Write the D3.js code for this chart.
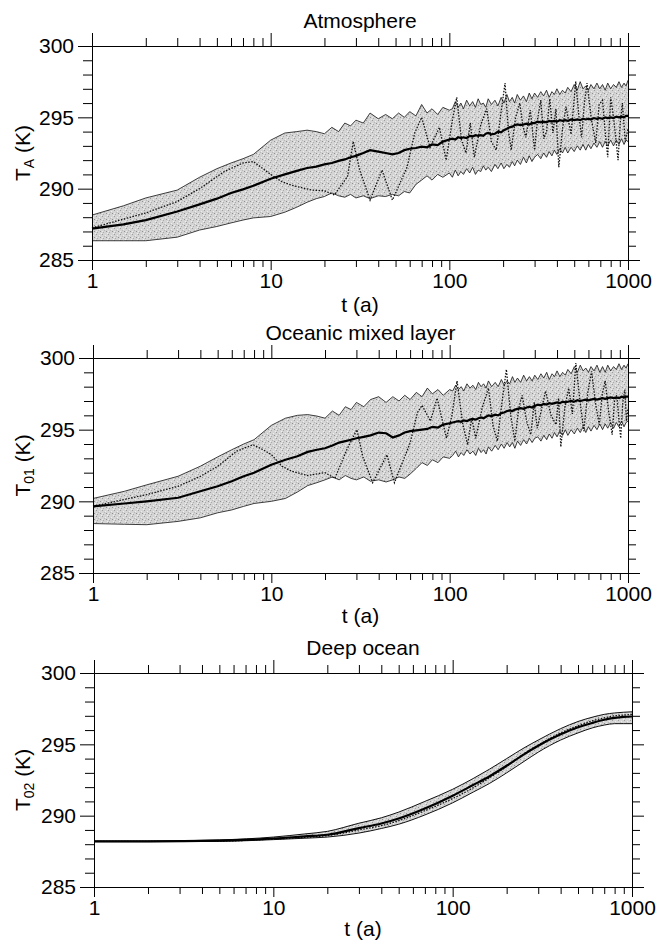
<!DOCTYPE html>
<html>
<head>
<meta charset="utf-8">
<script src="https://cdn.jsdelivr.net/npm/d3@7"></script>
<style>
  body { margin: 0; background: #fff; }
  svg { font-family: "Liberation Sans", Arial, Helvetica, sans-serif; }
</style>
</head>
<body>
<svg id="chart" width="656" height="944"></svg>
<script>
// ---- data (temperatures in K, time in years) ----
const tBand = [1, 1.5, 2, 3, 4, 5, 6, 7, 8, 10, 12, 14, 16, 18, 20,
  22, 24, 26, 28, 30, 33, 36, 40, 44, 48, 52, 56, 60, 65, 70, 75, 80, 86, 92, 100,
  104, 108, 112, 116, 120, 125, 130, 135, 140, 145, 150, 155, 160, 165, 172, 180, 187, 195, 202, 210,
  217, 225, 232, 240, 250, 260, 270, 280, 290, 300,
  312, 325, 337, 350, 362, 375, 387, 400, 415, 430, 445, 460, 480, 500, 520, 540, 560, 580, 600, 620,
  645, 670, 695, 720, 745, 770, 800, 830, 860, 890, 920, 950, 975, 1000];

// Atmosphere
const atmMean = [287.2, 287.5, 287.8, 288.4, 288.9, 289.3, 289.7, 289.95, 290.2, 290.7, 291.0, 291.25, 291.45, 291.55, 291.7,
  291.8, 291.95, 292.05, 292.2, 292.3, 292.5, 292.7, 292.6, 292.5, 292.4, 292.5, 292.7, 292.8, 292.85, 292.95, 292.9, 293.1, 293.05, 293.3, 293.45,
  293.5, 293.45, 293.6, 293.55, 293.6, 293.55, 293.7, 293.65, 293.75, 293.7, 293.75, 293.7, 293.85, 293.9, 293.8, 293.85, 294.0, 293.95, 294.1, 294.2,
  294.3, 294.35, 294.45, 294.5, 294.45, 294.5, 294.55, 294.5, 294.6, 294.6,
  294.7, 294.65, 294.7, 294.65, 294.75, 294.7, 294.75, 294.7, 294.8, 294.75, 294.8, 294.75, 294.85, 294.8, 294.85, 294.8, 294.9, 294.85, 294.9, 294.85,
  294.95, 294.9, 294.95, 294.9, 295.0, 294.95, 295.0, 294.95, 295.05, 295.0, 295.05, 295.0, 295.1, 295.1];
const atmUpper = [288.15, 288.8, 289.35, 289.9, 290.8, 291.4, 291.8, 292.1, 292.4, 293.4, 293.9, 294.0, 294.1, 294.0, 293.85,
  294.3, 294.0, 294.6, 294.4, 294.8, 294.6, 295.3, 294.9, 295.2, 294.9, 295.3, 295.0, 295.4, 295.1, 295.9, 295.3, 295.6, 295.2, 295.7, 295.5,
  295.6, 296.1, 295.7, 296.0, 295.6, 296.2, 295.8, 296.1, 295.7, 296.3, 295.9, 296.0, 295.7, 296.3, 295.9, 296.2, 295.8, 296.4, 296.0, 296.6,
  296.1, 296.4, 296.0, 296.6, 296.2, 296.5, 296.1, 296.7, 296.3, 296.7,
  296.4, 296.8, 296.5, 296.9, 296.4, 296.8, 296.6, 297.0, 296.6, 296.9, 296.7, 297.1, 296.8, 297.3, 296.9, 297.5, 297.0, 297.2, 296.9, 297.3,
  297.0, 297.4, 297.0, 297.3, 296.9, 297.4, 297.0, 297.3, 297.1, 297.5, 297.1, 297.4, 297.2, 297.6];
const atmLower = [286.35, 286.35, 286.35, 286.6, 287.1, 287.35, 287.6, 287.8, 287.95, 288.05, 288.35, 288.7, 289.05, 289.3, 289.45,
  289.7, 289.5, 289.4, 289.6, 289.35, 289.5, 289.3, 289.5, 289.45, 289.6, 289.5, 289.8, 289.7, 290.3, 290.6, 290.9, 290.6, 291.0, 290.8, 291.1,
  290.8, 291.3, 290.9, 291.2, 291.0, 291.4, 291.1, 291.5, 291.0, 291.3, 291.2, 291.6, 291.3, 291.5, 291.2, 291.7, 291.4, 291.8, 291.4, 291.7,
  291.5, 291.9, 291.6, 292.0, 291.7, 292.2, 291.8, 292.3, 291.9, 292.2,
  292.4, 292.1, 292.5, 292.2, 292.6, 292.3, 292.7, 292.4, 292.8, 292.5, 292.9, 292.5, 292.9, 292.6, 293.0, 292.7, 293.1, 292.7, 293.1, 292.8,
  293.2, 292.9, 293.3, 292.9, 293.3, 293.0, 293.4, 293.0, 293.4, 293.1, 293.5, 293.1, 293.4, 293.3];
const atmDotT = [1, 2, 3, 4, 5.5, 7, 8, 10, 11.5, 13, 17, 20, 22.7, 26.9, 29, 31.5, 36, 42, 48, 58,
  64, 70, 78, 88, 96, 104, 110, 117, 124, 131, 138, 150, 162, 172, 183, 194, 205, 214, 222, 235,
  248, 258, 268, 284, 300, 312, 325, 338, 350, 365, 380, 395, 410, 430, 450, 480, 510, 530, 550, 570,
  590, 625, 660, 690, 720, 745, 770, 800, 830, 855, 880, 905, 930, 965, 1000];
const atmDot = [287.25, 288.3, 289.1, 290.0, 291.2, 291.8, 291.9, 291.0, 290.5, 290.25, 289.9, 289.85, 289.56, 290.84, 293.3, 291.3, 289.2, 291.3, 289.2, 291.5,
  293.9, 295.0, 292.9, 294.3, 292.0, 294.8, 296.4, 293.4, 292.5, 294.6, 292.2, 294.5, 295.6, 293.3, 292.7, 295.2, 297.4, 294.1, 292.7, 295.0,
  296.0, 294.4, 293.6, 295.5, 292.7, 294.9, 296.2, 293.5, 294.0, 296.3, 293.9, 295.6, 291.5, 294.2, 295.75, 293.8, 297.5, 295.2, 293.6, 296.0,
  297.4, 294.8, 293.2, 295.9, 296.2, 294.0, 292.2, 296.4, 295.0, 293.5, 292.0, 294.6, 296.0, 293.3, 294.2];

// Oceanic mixed layer
const omlMean = [289.65, 289.85, 290.0, 290.25, 290.7, 291.05, 291.4, 291.75, 292.0, 292.55, 292.9, 293.15, 293.45, 293.6, 293.7,
  293.9, 294.1, 294.2, 294.3, 294.4, 294.5, 294.6, 294.8, 294.75, 294.45, 294.6, 294.8, 294.9, 294.95, 295.0, 295.05, 295.2, 295.15, 295.35, 295.45,
  295.5, 295.55, 295.6, 295.55, 295.65, 295.6, 295.7, 295.75, 295.7, 295.8, 295.85, 295.8, 295.9, 296.0, 295.95, 296.05, 296.0, 296.15, 296.2, 296.3,
  296.35, 296.3, 296.4, 296.45, 296.5, 296.45, 296.55, 296.6, 296.55, 296.65,
  296.75, 296.7, 296.8, 296.75, 296.85, 296.8, 296.85, 296.9, 296.85, 296.95, 296.9, 296.95, 297.0, 296.95, 297.05, 297.0, 297.05, 297.1, 297.05, 297.1,
  297.15, 297.1, 297.15, 297.2, 297.15, 297.2, 297.25, 297.2, 297.25, 297.2, 297.3, 297.25, 297.3, 297.3];
const omlUpper = [290.2, 290.7, 291.15, 291.75, 292.45, 293.1, 293.6, 294.0, 294.3, 295.3, 295.8, 296.0, 296.05, 295.95, 295.8,
  296.3, 296.0, 296.6, 296.4, 296.9, 296.6, 297.1, 297.3, 296.9, 297.3, 297.0, 297.4, 297.1, 297.6, 297.3, 297.9, 297.5, 297.8, 297.4, 297.8,
  297.7, 298.1, 297.8, 298.0, 297.7, 298.2, 297.9, 298.1, 297.8, 298.3, 298.0, 298.2, 297.9, 298.4, 298.0, 298.3, 298.0, 298.5, 298.1, 298.4,
  298.2, 298.7, 298.3, 298.6, 298.3, 298.8, 298.4, 298.7, 298.4, 298.8,
  298.5, 298.9, 298.6, 299.0, 298.5, 298.9, 298.7, 299.1, 298.7, 299.0, 298.8, 299.2, 298.9, 299.4, 299.0, 299.5, 299.1, 299.3, 299.0, 299.4,
  299.1, 299.5, 299.0, 299.4, 299.0, 299.5, 299.1, 299.4, 299.2, 299.6, 299.2, 299.5, 299.3, 299.6];
const omlLower = [288.45, 288.4, 288.37, 288.6, 288.85, 289.2, 289.4, 289.65, 289.85, 290.0, 290.2, 290.65, 291.1, 291.3, 291.5,
  291.7, 291.5, 291.8, 291.6, 291.5, 291.7, 291.4, 291.5, 291.35, 291.5, 291.7, 291.6, 291.9, 292.3, 292.7, 292.5, 292.9, 292.7, 293.1, 293.0,
  293.2, 293.5, 293.1, 293.4, 293.2, 293.6, 293.3, 293.5, 293.2, 293.7, 293.4, 293.6, 293.3, 293.8, 293.5, 293.9, 293.6, 294.0, 293.7, 294.1,
  293.8, 294.1, 293.7, 294.2, 293.9, 294.3, 294.0, 294.4, 294.1, 294.4,
  294.5, 294.2, 294.6, 294.3, 294.7, 294.4, 294.8, 294.5, 294.9, 294.6, 295.0, 294.6, 295.0, 294.7, 295.1, 294.8, 295.2, 294.8, 295.2, 294.9,
  295.3, 295.0, 295.4, 295.0, 295.4, 295.1, 295.5, 295.1, 295.5, 295.2, 295.6, 295.2, 295.5, 295.6];
const omlDotT = [1, 2, 3, 4, 5, 6.4, 7.9, 9, 10, 11.5, 13, 16, 20, 22.7, 26.5, 30.2, 32.6, 37, 44.5, 49,
  60, 66, 70, 78, 85, 96, 103, 110, 118, 126, 133, 140, 152, 165, 175, 185, 196, 208, 220, 232,
  244, 255, 270, 285, 298, 310, 327, 345, 370, 395, 408, 420, 443, 465, 488, 510, 538, 565, 595, 625,
  658, 690, 718, 745, 780, 815, 840, 865, 888, 910, 935, 960, 980, 1000];
const omlDot = [289.65, 290.47, 291.05, 291.74, 292.44, 293.5, 293.95, 293.6, 293.26, 292.44, 292.1, 291.8, 292.0, 291.6, 293.6, 295.0, 293.1, 291.3, 293.25, 291.3,
  294.07, 296.2, 296.7, 295.6, 297.2, 294.4, 296.0, 298.4, 295.5, 293.95, 295.8, 294.4, 296.5, 297.9, 295.3, 294.2, 296.8, 299.2, 296.0, 294.2,
  296.5, 297.4, 295.6, 294.65, 296.9, 295.1, 296.4, 297.7, 296.0, 295.35, 297.2, 293.8, 296.6, 297.9, 296.1, 299.65, 297.0, 294.9, 297.6, 299.07,
  296.8, 295.35, 297.5, 298.4, 296.2, 294.65, 297.0, 297.4, 295.8, 294.4, 296.9, 297.8, 295.6, 296.5];

// Deep ocean
const deepT = [1, 2, 5, 10, 15, 20, 30, 40, 50, 70, 100, 130, 160, 200, 250, 300, 400, 500, 600, 700, 800, 900, 1000];
const deepMean = [288.2, 288.2, 288.25, 288.4, 288.55, 288.66, 289.13, 289.45, 289.8, 290.5, 291.4, 292.15, 292.75, 293.5, 294.3, 294.9, 295.7, 296.2, 296.5, 296.72, 296.85, 296.92, 296.95];
const deepUpper = [288.22, 288.22, 288.3, 288.5, 288.72, 288.9, 289.47, 289.85, 290.25, 291.0, 291.85, 292.6, 293.25, 294.0, 294.75, 295.3, 296.1, 296.6, 296.9, 297.1, 297.2, 297.25, 297.28];
const deepLower = [288.18, 288.18, 288.2, 288.32, 288.42, 288.5, 288.78, 289.1, 289.4, 290.05, 290.9, 291.65, 292.25, 293.0, 293.8, 294.45, 295.3, 295.8, 296.15, 296.35, 296.45, 296.45, 296.45];
const deepDot = [288.2, 288.2, 288.22, 288.36, 288.48, 288.6, 289.0, 289.3, 289.65, 290.35, 291.2, 291.95, 292.65, 293.45, 294.35, 294.95, 295.8, 296.3, 296.65, 296.85, 297.0, 297.05, 297.1];

// ticks
const xMajor = [1, 10, 100, 1000];
const xMinor = [2, 3, 4, 5, 6, 7, 8, 9, 20, 30, 40, 50, 60, 70, 80, 90, 200, 300, 400, 500, 600, 700, 800, 900];
const yMajor = [285, 290, 295, 300];
const yMinor = [286, 287, 288, 289, 291, 292, 293, 294, 296, 297, 298, 299];

const titles = ['Atmosphere', 'Oceanic mixed layer', 'Deep ocean'];
const subscripts = ['A', '01', '02'];

// ---- layout ----
const panels = [
  {left: 92, right: 628, top: 46, bottom: 260, xlab: 52, t: tBand, mean: atmMean, upper: atmUpper, lower: atmLower, dotT: atmDotT, dot: atmDot, curve: d3.curveLinear},
  {left: 93, right: 628, top: 358, bottom: 573, xlab: 50, t: tBand, mean: omlMean, upper: omlUpper, lower: omlLower, dotT: omlDotT, dot: omlDot, curve: d3.curveLinear},
  {left: 94, right: 632, top: 673, bottom: 887, xlab: 49, t: deepT, mean: deepMean, upper: deepUpper, lower: deepLower, dotT: deepT, dot: deepDot, curve: d3.curveMonotoneX}
];

const svg = d3.select('#chart');

// stippled grey fill for the envelope
let pat = svg.append('defs').append('pattern')
  .attr('id', 'stipple')
  .attr('width', 6).attr('height', 6)
  .attr('patternUnits', 'userSpaceOnUse');
pat.append('rect').attr('width', 6).attr('height', 6).attr('fill', '#d4d4d4');
[[0, 0, '#9a9a9a'], [3, 1, '#eeeeee'], [4, 3, '#8f8f8f'], [1, 4, '#aaaaaa'], [5, 5, '#f0f0f0'], [2, 2, '#b8b8b8'], [0, 3, '#ececec']]
  .forEach(p => pat.append('rect').attr('x', p[0]).attr('y', p[1]).attr('width', 1).attr('height', 1).attr('fill', p[2]));

panels.forEach((p, k) => {
  const x = d3.scaleLog().domain([1, 1000]).range([p.left, p.right]);
  const y = d3.scaleLinear().domain([285, 300]).range([p.bottom, p.top]);
  const g = svg.append('g');
  const idx = d3.range(p.t.length);

  // envelope
  g.append('path')
    .attr('d', d3.area().curve(p.curve)
      .x(i => x(p.t[i])).y0(i => y(p.lower[i])).y1(i => y(p.upper[i]))(idx))
    .attr('fill', 'url(#stipple)');
  [p.upper, p.lower].forEach(s => {
    g.append('path')
      .attr('d', d3.line().curve(p.curve).x(i => x(p.t[i])).y(i => y(s[i]))(idx))
      .attr('fill', 'none').attr('stroke', '#111').attr('stroke-width', k === 2 ? 1 : 0.8);
  });

  // single run (dotted)
  g.append('path')
    .attr('d', d3.line().curve(p.curve).x(i => x(p.dotT[i])).y(i => y(p.dot[i]))(d3.range(p.dotT.length)))
    .attr('fill', 'none').attr('stroke', '#111').attr('stroke-width', 1.3)
    .attr('stroke-dasharray', '1.5,1.5');

  // ensemble mean
  g.append('path')
    .attr('d', d3.line().curve(p.curve).x(i => x(p.t[i])).y(i => y(p.mean[i]))(idx))
    .attr('fill', 'none').attr('stroke', '#000').attr('stroke-width', 2.2);

  // axes: major/minor ticks on all four sides
  const axes = [
    [d3.axisBottom, x, xMajor, 10, true, p.bottom, 0],
    [d3.axisBottom, x, xMinor, 7, false, p.bottom, 0],
    [d3.axisTop, x, xMajor, 13, false, p.top, 0],
    [d3.axisTop, x, xMinor, 8, false, p.top, 0],
    [d3.axisLeft, y, yMajor, 14, true, 0, p.left],
    [d3.axisLeft, y, yMinor, 9, false, 0, p.left],
    [d3.axisRight, y, yMajor, 12, false, 0, p.right],
    [d3.axisRight, y, yMinor, 8, false, 0, p.right]
  ];
  axes.forEach(a => {
    const ax = g.append('g')
      .attr('transform', `translate(${a[6]},${a[5]})`)
      .call(a[0](a[1]).tickValues(a[2]).tickSize(a[3]).tickSizeOuter(0)
        .tickPadding(a[1] === x ? 3 : 4).tickFormat(a[4] ? d3.format('d') : ''));
    ax.attr('font-family', null).attr('font-size', 21);
    ax.selectAll('line, path').attr('stroke', '#000').attr('stroke-width', 1);
    ax.selectAll('text').attr('fill', '#000');
  });

  // titles and axis labels
  g.append('text')
    .attr('x', (p.left + p.right) / 2).attr('y', p.top - 18)
    .attr('text-anchor', 'middle').attr('font-size', 21)
    .text(titles[k]);
  g.append('text')
    .attr('x', (p.left + p.right) / 2).attr('y', p.bottom + p.xlab)
    .attr('text-anchor', 'middle').attr('font-size', 21)
    .text('t (a)');
  const yl = g.append('text')
    .attr('transform', `translate(30,${(p.top + p.bottom) / 2}) rotate(-90)`)
    .attr('text-anchor', 'middle').attr('font-size', 21);
  yl.append('tspan').text('T');
  yl.append('tspan').attr('font-size', 14).attr('dy', 4).text(subscripts[k]);
  yl.append('tspan').attr('dy', -4).text(' (K)');
});
</script>
</body>
</html>
